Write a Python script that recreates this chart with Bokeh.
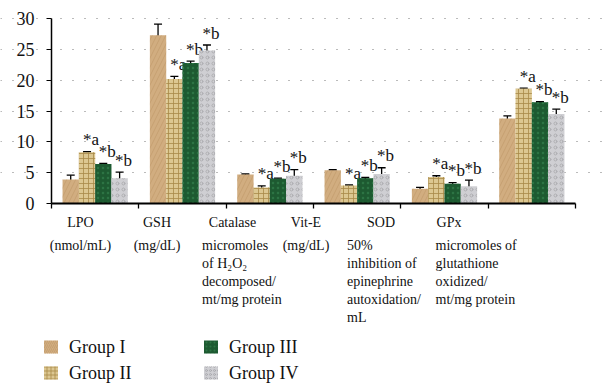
from bokeh.plotting import figure
from bokeh.models import Range1d, FixedTicker, ColumnDataSource, Whisker, TeeHead
from bokeh.core.properties import value
from bokeh.embed import file_html
from bokeh.resources import INLINE

# ---------------- data ----------------
categories = ["LPO", "GSH", "Catalase", "Vit-E", "SOD", "GPx"]
groups = ["Group I", "Group II", "Group III", "Group IV"]
group1 = [3.9, 27.3, 4.7, 5.4, 2.4, 13.8]
group2 = [8.3, 20.2, 2.6, 2.9, 4.3, 18.6]
group3 = [6.4, 22.8, 4.0, 4.1, 3.2, 16.4]
group4 = [4.1, 24.8, 4.5, 4.8, 2.8, 14.5]
err1 = [0.7, 1.8, 0.1, 0.1, 0.2, 0.4]
err2 = [0.1, 0.4, 0.25, 0.1, 0.2, 0.1]
err3 = [0.1, 0.3, 0.1, 0.15, 0.2, 0.1]
err4 = [1.0, 0.9, 1.0, 1.0, 1.0, 0.8]
sig2 = ["*a"] * 6
sig3 = ["*b"] * 6
sig4 = ["*b"] * 6
y_ticks = [0, 5, 10, 15, 20, 25, 30]
y_tick_labels = ["0", "5", "10", "15", "20", "25", "30"]
units = [
    ["(nmol/mL)"],
    ["(mg/dL)"],
    ["micromoles", "of H\u2082O\u2082", "decomposed/", "mt/mg protein"],
    ["(mg/dL)"],
    ["50%", "inhibition of", "epinephrine", "autoxidation/", "mL"],
    ["micromoles of", "glutathione", "oxidized/", "mt/mg protein"],
]

# ---------------- styles / layout ----------------
SERIF = "Liberation Serif"
fills = ["#d1ad80", "#dcc791", "#1d5a31", "#cfcfd3"]
hatches = ["right_diagonal_line", "cross", "dot", "ring"]
hatch_cols = ["#b8915f", "#a98a48", "#2f7a48", "#a6a6aa"]
hatch_scales = [9, 5, 5, 6]
hatch_alphas = [0.45, 0.8, 0.8, 0.8]
offsets = [-0.28, -0.093, 0.093, 0.28]
bar_w = 0.187

W, H = 610, 385
AX_LEFT, AX_RIGHT = 51, 575      # page x of category 0 and 6
AX_TOP, AX_BOTTOM = 18, 203      # page y of value 30 and 0
ncat = len(categories)
cw = (AX_RIGHT - AX_LEFT) / ncat
vh = (AX_BOTTOM - AX_TOP) / 30.0

values = [group1, group2, group3, group4]
errs = [err1, err2, err3, err4]
sigs = [None, sig2, sig3, sig4]

p = figure(width=W, height=H,
           x_range=Range1d(-AX_LEFT / cw, ncat + (W - AX_RIGHT) / cw),
           y_range=Range1d(-(H - AX_BOTTOM) / vh, AX_BOTTOM / vh),
           output_backend="svg", toolbar_location=None,
           min_border_left=0, min_border_right=0, min_border_top=0, min_border_bottom=0)
# page-pixel coordinate system for the caption area
p.extra_x_ranges = {"px": Range1d(0, W)}
p.extra_y_ranges = {"py": Range1d(H, 0)}
p.outline_line_color = None
p.background_fill_color = "white"
p.border_fill_color = "white"

p.xgrid.visible = False
p.ygrid.grid_line_color = "#777777"
p.ygrid.grid_line_dash = "1 11"
p.ygrid.grid_line_width = 1.2
p.ygrid.ticker = FixedTicker(ticks=y_ticks[1:])
p.ygrid.bounds = (0, ncat)

p.yaxis.fixed_location = 0
p.yaxis.bounds = (0, 30)
p.yaxis.ticker = FixedTicker(ticks=y_ticks)
p.yaxis.major_label_text_font_size = "1px"
p.yaxis.major_label_text_alpha = 0
p.yaxis.major_tick_out = 5
p.yaxis.major_tick_in = 0
p.yaxis.minor_tick_line_color = None
p.yaxis.axis_line_width = 1.5
p.yaxis.axis_line_color = "black"

p.xaxis.fixed_location = 0
p.xaxis.bounds = (0, ncat)
p.xaxis.ticker = FixedTicker(ticks=list(range(ncat + 1)))
p.xaxis.major_label_text_font_size = "1px"
p.xaxis.major_label_text_alpha = 0
p.xaxis.major_tick_out = 5
p.xaxis.major_tick_in = 0
p.xaxis.major_tick_line_width = 1.3
p.xaxis.minor_tick_line_color = None
p.xaxis.axis_line_width = 2
p.xaxis.axis_line_color = "black"

# y tick labels
p.text(x=[0] * len(y_ticks), y=y_ticks, text=y_tick_labels, text_font=value(SERIF),
       text_font_size="18px", text_align="right", text_baseline="middle",
       x_offset=-17, text_color="#111111")

for j in range(4):
    xs = [i + 0.5 + offsets[j] for i in range(ncat)]
    vals = values[j]
    e = errs[j]
    src = ColumnDataSource(dict(
        x=xs, top=vals,
        upper=[v + d for v, d in zip(vals, e)],
        lower=[v - d for v, d in zip(vals, e)],
        lab=sigs[j] if sigs[j] else [""] * len(vals),
    ))
    p.vbar(x="x", top="top", width=bar_w, bottom=0, source=src,
           fill_color=fills[j], line_color=None,
           hatch_pattern=hatches[j], hatch_color=hatch_cols[j],
           hatch_scale=hatch_scales[j], hatch_alpha=hatch_alphas[j], hatch_weight=1)
    w = Whisker(source=src, base="x", upper="upper", lower="lower", dimension="height",
                line_color="black", line_width=1.3,
                upper_head=TeeHead(size=8, line_color="black", line_width=1.3),
                lower_head=TeeHead(size=8, line_color="black", line_width=1.3))
    p.add_layout(w)
    if sigs[j]:
        p.text(x="x", y="upper", text="lab", source=src, text_font=value(SERIF),
               text_font_size="17px", text_align="center", text_baseline="middle",
               x_offset=4, y_offset=-12, text_color="#111111")

# ---------------- caption area: category labels, units, legend ----------------
name_x = [80, 156.5, 232, 305.5, 380.5, 448.5]
unit_x = [80, 156.5, 201.5, 305.5, 346.5, 435]
unit_align = ["center", "center", "left", "center", "left", "left"]
p.text(x=name_x, y=[222] * ncat, text=categories, text_font=value(SERIF),
       text_font_size="14px", text_align="center", text_baseline="middle", text_color="#111111",
       x_range_name="px", y_range_name="py")
for i, lines in enumerate(units):
    p.text(x=[unit_x[i]] * len(lines), y=[245 + 18 * k for k in range(len(lines))], text=lines,
           text_font=value(SERIF), text_font_size="14px", text_align=unit_align[i],
           text_baseline="middle", text_color="#111111", x_range_name="px", y_range_name="py")

leg_x = [50.5, 50.5, 210.5, 210.5]
leg_y = [346.5, 372.5, 346.5, 372.5]
for j in range(4):
    p.rect(x=[leg_x[j]], y=[leg_y[j]], width=14, height=13, fill_color=fills[j], line_color=None,
           hatch_pattern=hatches[j], hatch_color=hatch_cols[j], hatch_scale=4,
           hatch_alpha=hatch_alphas[j], hatch_weight=1, x_range_name="px", y_range_name="py")
    p.text(x=[leg_x[j] + 18], y=[leg_y[j] - 0.5], text=[groups[j]], text_font=value(SERIF),
           text_font_size="18px", text_align="left", text_baseline="middle", text_color="#111111",
           x_range_name="px", y_range_name="py")

open("out.html", "w").write(file_html(p, INLINE))
